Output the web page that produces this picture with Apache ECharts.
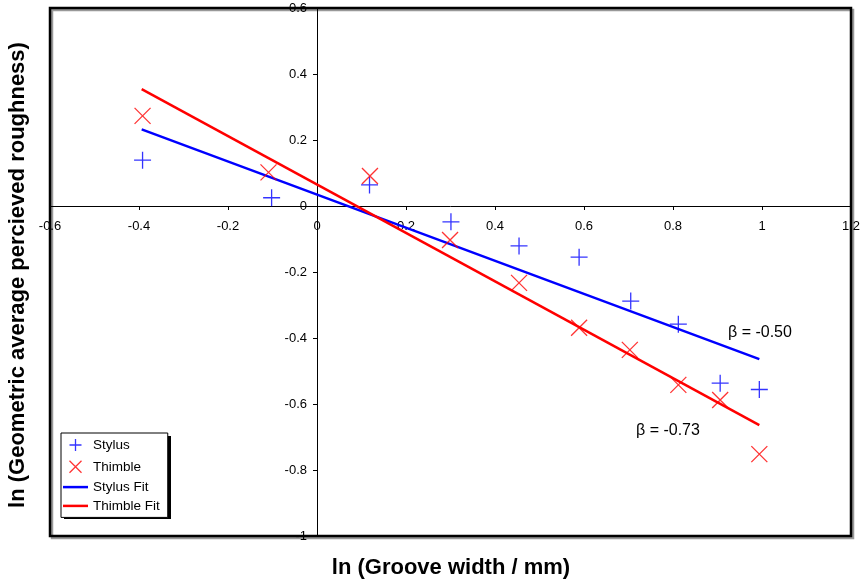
<!DOCTYPE html>
<html>
<head>
<meta charset="utf-8">
<script src="https://cdn.jsdelivr.net/npm/echarts@6/dist/echarts.min.js"></script>
<style>
  html, body { margin: 0; padding: 0; background: #fff; }
  #chart { width: 863px; height: 582px; }
</style>
</head>
<body>
<div id="chart"></div>
<script>
// ln(groove width) vs ln(perceived roughness)
const stylusX = [-0.392, -0.102, 0.118, 0.301, 0.454, 0.589, 0.705, 0.812, 0.906, 0.994];
const stylusY = [0.139, 0.025, 0.064, -0.048, -0.121, -0.155, -0.288, -0.358, -0.537, -0.556];
const thimbleX = [-0.392, -0.109, 0.119, 0.299, 0.454, 0.589, 0.703, 0.812, 0.906, 0.994];
const thimbleY = [0.273, 0.102, 0.091, -0.103, -0.233, -0.369, -0.436, -0.542, -0.588, -0.752];
const stylusFitX = [-0.394, 0.994];
const stylusFitY = [0.232, -0.464];
const thimbleFitX = [-0.394, 0.994];
const thimbleFitY = [0.354, -0.664];

const zip = (xs, ys) => xs.map((x, i) => [x, ys[i]]);

const plusPath = 'path://M0,10L20,10M10,0L10,20';
const crossPath = 'path://M0,0L20,20M20,0L0,20';
const barPath = 'path://M0,0L25,0L25,2.5L0,2.5Z';
const font = 'Liberation Sans, Arial, sans-serif';
const fmt = v => String(Math.round(v * 10) / 10);

const chart = echarts.init(document.getElementById('chart'));

chart.setOption({
    animation: false,
    backgroundColor: '#fff',
    textStyle: {fontFamily: font, color: '#000'},
    grid: {left: 50, top: 8, width: 801, height: 528, show: false, containLabel: false, outerBoundsMode: 'none'},
    xAxis: {
        type: 'value',
        min: -0.6,
        max: 1.2,
        interval: 0.2,
        position: 'bottom',
        offset: -330, // axes cross at the origin
        axisLine: {onZero: false, lineStyle: {color: '#000', width: 1}},
        axisTick: {show: true, length: 4, lineStyle: {color: '#000'}},
        axisLabel: {color: '#000', fontSize: 13, margin: 14, showMinLabel: true, showMaxLabel: true, formatter: fmt},
        splitLine: {show: false}
    },
    yAxis: {
        type: 'value',
        min: -1,
        max: 0.6,
        interval: 0.2,
        position: 'left',
        offset: -267,
        axisLine: {onZero: false, lineStyle: {color: '#000', width: 1}},
        axisTick: {show: true, length: 4, lineStyle: {color: '#000'}},
        axisLabel: {color: '#000', fontSize: 13, margin: 10, showMinLabel: true, showMaxLabel: true, formatter: fmt},
        splitLine: {show: false}
    },
    legend: {
        orient: 'vertical',
        left: 61,
        top: 433,
        itemWidth: 25,
        itemHeight: 12,
        itemGap: 4.8,
        padding: [3.5, 8, 4.5, 2],
        backgroundColor: '#fff',
        borderColor: '#000',
        borderWidth: 1,
        textStyle: {fontSize: 13.5, color: '#000', fontFamily: font, lineHeight: 13},
        data: [
            {name: 'Stylus', icon: plusPath, itemStyle: {color: 'none', borderColor: '#0000ff', borderWidth: 1.3}},
            {name: 'Thimble', icon: crossPath, itemStyle: {color: 'none', borderColor: '#ff0000', borderWidth: 1.3}},
            {name: 'Stylus Fit', icon: barPath, itemStyle: {color: '#0000ff', borderWidth: 0}},
            {name: 'Thimble Fit', icon: barPath, itemStyle: {color: '#ff0000', borderWidth: 0}}
        ],
        z: 10
    },
    graphic: [
        {
            type: 'rect',
            z: 0,
            shape: {x: 50, y: 8, width: 801, height: 528},
            style: {fill: 'none', stroke: '#000', lineWidth: 2.5, shadowColor: '#999', shadowOffsetX: 2, shadowOffsetY: 2, shadowBlur: 0}
        },
        {
            type: 'rect',
            z: 5,
            shape: {x: 64, y: 436, width: 107, height: 83},
            style: {fill: '#000'}
        },
        {
            type: 'text',
            rotation: Math.PI / 2,
            x: 18,
            y: 275,
            style: {
                text: 'ln (Geometric average percieved roughness)',
                fontSize: 22, fontWeight: 'bold', fontFamily: font, fill: '#000',
                align: 'center', verticalAlign: 'middle'
            }
        },
        {
            type: 'text',
            x: 451,
            y: 568,
            style: {
                text: 'ln (Groove width / mm)',
                fontSize: 22, fontWeight: 'bold', fontFamily: font, fill: '#000',
                align: 'center', verticalAlign: 'middle'
            }
        },
        {
            type: 'text',
            x: 728, y: 333,
            style: {text: 'β = -0.50', fontSize: 16, fontFamily: font, fill: '#000', verticalAlign: 'middle'}
        },
        {
            type: 'text',
            x: 636, y: 431,
            style: {text: 'β = -0.73', fontSize: 16, fontFamily: font, fill: '#000', verticalAlign: 'middle'}
        }
    ],
    series: [
        {
            name: 'Stylus',
            type: 'scatter',
            symbol: plusPath,
            symbolSize: 17,
            itemStyle: {color: 'none', borderColor: '#0000ff', borderWidth: 1.3},
            data: zip(stylusX, stylusY),
            z: 3
        },
        {
            name: 'Thimble',
            type: 'scatter',
            symbol: crossPath,
            symbolSize: 16,
            itemStyle: {color: 'none', borderColor: '#ff0000', borderWidth: 1.3},
            data: zip(thimbleX, thimbleY),
            z: 3
        },
        {
            name: 'Stylus Fit',
            type: 'line',
            symbol: 'none',
            color: '#0000ff',
            lineStyle: {color: '#0000ff', width: 2.5},
            data: zip(stylusFitX, stylusFitY),
            z: 2
        },
        {
            name: 'Thimble Fit',
            type: 'line',
            symbol: 'none',
            color: '#ff0000',
            lineStyle: {color: '#ff0000', width: 2.5},
            data: zip(thimbleFitX, thimbleFitY),
            z: 2
        }
    ]
});
</script>
</body>
</html>
